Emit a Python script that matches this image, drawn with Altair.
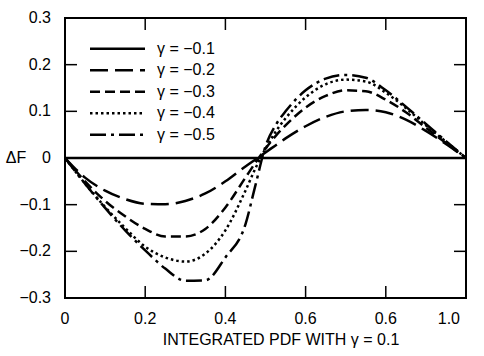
import altair as alt
import pandas as pd

# ---------------- data ----------------
x_vals = [0, 0.05, 0.1, 0.15, 0.2, 0.25, 0.3, 0.35, 0.4, 0.45, 0.475, 0.5,
          0.525, 0.55, 0.6, 0.65, 0.7, 0.75, 0.8, 0.85, 0.9, 0.95, 1.0]

gamma_labels = ["γ = −0.1", "γ = −0.2", "γ = −0.3", "γ = −0.4", "γ = −0.5"]

g01 = [0] * 23
g02 = [0, -0.042, -0.070, -0.088, -0.098, -0.099, -0.092, -0.076, -0.050, -0.018,
       -0.003, 0.012, 0.027, 0.042, 0.068, 0.088, 0.100, 0.103, 0.098, 0.082,
       0.058, 0.030, 0]
g03 = [0, -0.050, -0.092, -0.125, -0.152, -0.168, -0.168, -0.152, -0.106, -0.042,
       -0.010, 0.020, 0.047, 0.070, 0.108, 0.133, 0.145, 0.143, 0.125, 0.098,
       0.065, 0.032, 0]
g04 = [0, -0.055, -0.105, -0.150, -0.190, -0.213, -0.222, -0.205, -0.155, -0.070,
       -0.022, 0.020, 0.056, 0.085, 0.130, 0.158, 0.168, 0.164, 0.140, 0.107,
       0.070, 0.035, 0]
g05 = [0, -0.055, -0.107, -0.155, -0.198, -0.237, -0.263, -0.262, -0.213, -0.142,
       -0.058, 0.025, 0.070, 0.100, 0.145, 0.170, 0.178, 0.172, 0.145, 0.110,
       0.073, 0.036, 0]

series_values = [g01, g02, g03, g04, g05]

x_ticks = [0, 0.2, 0.4, 0.6, 0.8, 1.0]
x_tick_labels = ["0", "0.2", "0.4", "0.6", "0.6", "1.0"]
x_inner_ticks = [0.2, 0.4, 0.6, 0.8]
y_ticks = [-0.3, -0.2, -0.1, 0, 0.1, 0.2, 0.3]
y_tick_labels = ["−0.3", "−0.2", "−0.1", "0", "0.1", "0.2", "0.3"]
y_inner_ticks = [-0.2, -0.1, 0.1, 0.2]

x_title = "INTEGRATED PDF WITH γ = 0.1"
y_title = "ΔF"

# ---------------- build tables ----------------
rows = []
for lab, vals in zip(gamma_labels, series_values):
    for xv, yv in zip(x_vals, vals):
        rows.append({"x": xv, "y": yv, "gamma": lab})
df = pd.DataFrame(rows)
xt_df = pd.DataFrame({"v": x_inner_ticks})
yt_df = pd.DataFrame({"v": y_inner_ticks})
xl_df = pd.DataFrame({"xl": x_ticks, "label": x_tick_labels})
yl_df = pd.DataFrame({"yl": y_ticks, "label": y_tick_labels})
xtitle_df = pd.DataFrame({"t": [x_title]})
ytitle_df = pd.DataFrame({"t": [y_title]})
leg_df = pd.DataFrame({"gamma": gamma_labels, "row": list(range(len(gamma_labels)))})

dashes = [[1, 0], [18, 7], [10, 5], [2.5, 3], [16, 5, 3, 5]]

FONT = "Liberation Sans"
FS = 16
W, H, TICK = 401, 280, 12
xs = alt.Scale(domain=[0, 1], nice=False, zero=False)
ys = alt.Scale(domain=[-0.3, 0.3], nice=False, zero=False)
dash_scale = alt.Scale(domain=gamma_labels, range=dashes)

# ---------------- curves + inward ticks (same structure that rendered ticks) ----------------
lines = alt.Chart(df).mark_line(color="black", strokeWidth=2.5, interpolate="monotone").encode(
    x=alt.X("x:Q", scale=xs, axis=None),
    y=alt.Y("y:Q", scale=ys, axis=None),
    strokeDash=alt.StrokeDash("gamma:N", scale=dash_scale, legend=None),
)

rule = dict(color="black", strokeWidth=1.5)
tick_bottom = alt.Chart(xt_df).mark_rule(**rule).encode(
    x=alt.X("v:Q", scale=xs, axis=None), y=alt.value(H - TICK), y2=alt.value(H))
tick_top = alt.Chart(xt_df).mark_rule(**rule).encode(
    x=alt.X("v:Q", scale=xs, axis=None), y=alt.value(0), y2=alt.value(TICK))
tick_left = alt.Chart(yt_df).mark_rule(**rule).encode(
    y=alt.Y("v:Q", scale=ys, axis=None), x=alt.value(0), x2=alt.value(TICK))
tick_right = alt.Chart(yt_df).mark_rule(**rule).encode(
    y=alt.Y("v:Q", scale=ys, axis=None), x=alt.value(W - TICK), x2=alt.value(W))

plot = alt.layer(lines, tick_bottom, tick_top, tick_left, tick_right)

# ---------------- tick labels and titles in their own layer ----------------
txt = dict(font=FONT, fontSize=FS, color="black")
xs2 = alt.Scale(domain=[0, 1], nice=False, zero=False)
ys2 = alt.Scale(domain=[-0.3, 0.3], nice=False, zero=False)
xlab_mid = alt.Chart(xl_df.iloc[:-1]).mark_text(align="center", baseline="alphabetic", **txt).encode(
    x=alt.X("xl:Q", scale=xs2, axis=None), y=alt.value(H + 25.5), text="label:N")
xlab_end = alt.Chart(xl_df.iloc[-1:]).mark_text(align="right", baseline="alphabetic", dx=-6, **txt).encode(
    x=alt.X("xl:Q", scale=xs2, axis=None), y=alt.value(H + 25.5), text="label:N")
ylab = alt.Chart(yl_df).mark_text(align="right", baseline="middle", **txt).encode(
    y=alt.Y("yl:Q", scale=ys2, axis=None), x=alt.value(-14), text="label:N")
xtitle = alt.Chart(xtitle_df).mark_text(align="center", baseline="alphabetic", **txt).encode(
    x=alt.value(216), y=alt.value(H + 46.5), text="t:N")
ytitle = alt.Chart(ytitle_df).mark_text(align="center", baseline="middle", **txt).encode(
    x=alt.value(-49), y=alt.value(H / 2), text="t:N")
labels = alt.layer(xlab_mid, xlab_end, ylab, xtitle, ytitle)

# ---------------- legend inside the plot, top-left ----------------
row_scale = alt.Scale(type="point", domain=list(range(len(gamma_labels))),
                      range=[30.75, 116.75], padding=0)
leg_lines = alt.Chart(leg_df).mark_rule(color="black", strokeWidth=2.5).encode(
    y=alt.Y("row:O", scale=row_scale, axis=None),
    x=alt.value(25), x2=alt.value(80),
    strokeDash=alt.StrokeDash("gamma:N", scale=dash_scale, legend=None),
)
leg_text = alt.Chart(leg_df).mark_text(align="left", baseline="middle", **txt).encode(
    y=alt.Y("row:O", scale=row_scale, axis=None),
    x=alt.value(92),
    text="gamma:N",
)
legend = alt.layer(leg_lines, leg_text)

chart = alt.layer(plot, legend, labels).resolve_scale(
    x="independent", y="independent", strokeDash="independent"
).properties(
    width=W, height=H,
    padding={"left": 65, "top": 18, "right": 18, "bottom": 58},
    autosize=alt.AutoSizeParams(type="none"),
).configure(
    font=FONT, background="white"
).configure_view(
    stroke="black", strokeWidth=2
)

chart.save("out.html", embed_options={"renderer": "svg", "actions": False})
